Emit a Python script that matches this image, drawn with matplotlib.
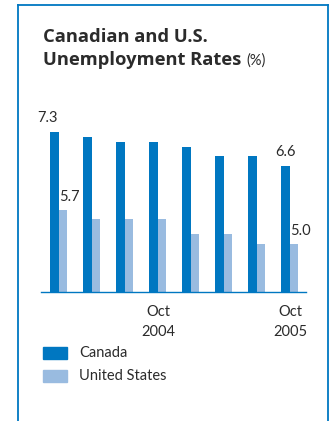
import matplotlib.pyplot as plt
from matplotlib.lines import Line2D
from matplotlib.patches import Rectangle
import numpy as np

# quarterly readings, Jan 2004 .. Oct 2005
periods = ["", "", "", "Oct\n2004", "", "", "", "Oct\n2005"]
canada = [7.3, 7.2, 7.1, 7.1, 7.0, 6.8, 6.8, 6.6]
us = [5.7, 5.5, 5.5, 5.5, 5.2, 5.2, 5.0, 5.0]
series_names = ["Canada", "United States"]

dark_blue = "#0077c1"
light_blue = "#99bbe0"
text_col = "#2b2b2b"
font = "Lato"

fig = plt.figure(figsize=(3.31, 4.21), dpi=100)
W, H = 331, 421

def fx(px):
    return px / W

def fy(py):
    return 1 - py / H

# frame: left, top, right (open at bottom)
for xs, ys in [([18, 18], [421, 5]), ([18, 328], [5, 5]), ([328, 328], [5, 421])]:
    fig.add_artist(Line2D([fx(v) for v in xs], [fy(v) for v in ys],
                          color=dark_blue, lw=1.3, transform=fig.transFigure))

# title
fig.text(fx(43), fy(41.5), "Canadian and U.S.", fontsize=13.2, fontweight="bold",
         family="Open Sans", color=text_col, va="baseline")
t = fig.text(fx(43), fy(65), "Unemployment Rates", fontsize=13.2, fontweight="bold",
             family="Open Sans", color=text_col, va="baseline")
fig.canvas.draw()
bb = t.get_window_extent()
fig.text(bb.x1 / W + fx(5), fy(65), "(%)", fontsize=10.5, family=font, color=text_col,
         va="baseline")

# axes: baseline at 292 px, value 4.0; 48.6 px per unit
ax = fig.add_axes([fx(41), fy(292.3), fx(306) - fx(41), 170.1 / H])
x = np.arange(len(canada))
ax.bar(x - 0.136, np.array(canada) - 4.0, bottom=4.0, width=0.272, color=dark_blue)
ax.bar(x + 0.121, np.array(us) - 4.0, bottom=4.0, width=0.242, color=light_blue)
ax.set_xlim(-0.545, 7.485)
ax.set_ylim(4.0, 7.5)

for s in ["top", "right", "left"]:
    ax.spines[s].set_visible(False)
ax.spines["bottom"].set_color(dark_blue)
ax.spines["bottom"].set_linewidth(1.0)
ax.set_yticks([])
ax.set_xticks(x + 0.0)
ax.set_xticklabels(periods, fontsize=10.5, family=font, color=text_col, linespacing=1.6)
ax.tick_params(axis="x", length=0, pad=9)
ax.patch.set_alpha(0)

# value labels
lbl = dict(fontsize=10.5, family=font, color=text_col, ha="center", va="bottom")
ax.annotate(f"{canada[0]:.1f}", (x[0] - 0.136, canada[0]), xytext=(-5, 5),
            textcoords="offset points", **lbl)
ax.annotate(f"{us[0]:.1f}", (x[0] + 0.121, us[0]), xytext=(5, 4),
            textcoords="offset points", **lbl)
ax.annotate(f"{canada[-1]:.1f}", (x[-1] - 0.136, canada[-1]), xytext=(0, 5),
            textcoords="offset points", **lbl)
ax.annotate(f"{us[-1]:.1f}", (x[-1] + 0.121, us[-1]), xytext=(5, 4),
            textcoords="offset points", **lbl)

# legend
for name, col, top in zip(series_names, [dark_blue, light_blue], [347, 370]):
    fig.add_artist(Rectangle((fx(43), fy(top + 12)), fx(24), 12 / H, color=col,
                             transform=fig.transFigure))
    fig.text(fx(79), fy(top + 6), name, fontsize=10.5, family=font, color=text_col,
             va="center")

fig.savefig("out.png", dpi=100)
